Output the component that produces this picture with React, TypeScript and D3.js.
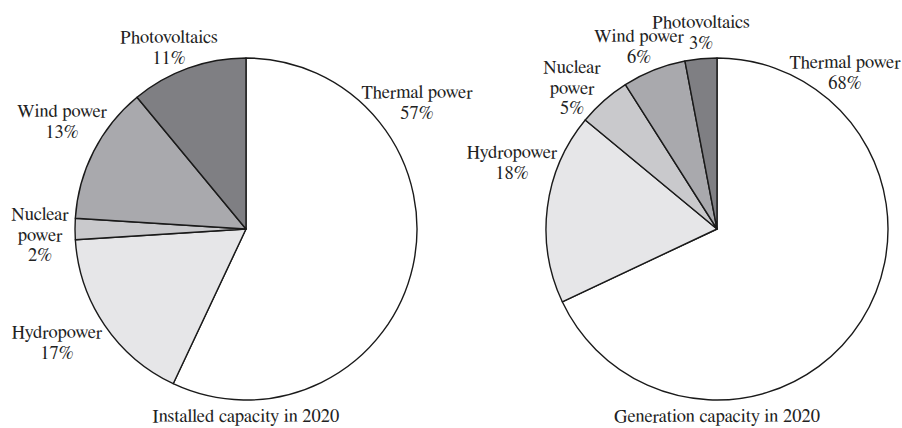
import React from "react";
import * as d3 from "d3";

const categories = ["Thermal power", "Hydropower", "Nuclear power", "Wind power", "Photovoltaics"];
const installedValues = [57, 17, 2, 13, 11];
const generationValues = [68, 18, 5, 6, 3];
const titles = ["Installed capacity in 2020", "Generation capacity in 2020"];
const colors = ["#ffffff", "#e6e6e8", "#c9c9cc", "#a9a9ad", "#7f7f83"];

const installedLabels = [
  { lines: ["Thermal power", "57%"], x: 417, y: 98 },
  { lines: ["Hydropower", "17%"], x: 57, y: 338 },
  { lines: ["Nuclear", "power", "2%"], x: 40, y: 220 },
  { lines: ["Wind power", "13%"], x: 62, y: 117 },
  { lines: ["Photovoltaics", "11%"], x: 169, y: 43 },
];
const generationLabels = [
  { lines: ["Thermal power", "68%"], x: 845, y: 68 },
  { lines: ["Hydropower", "18%"], x: 512, y: 158 },
  { lines: ["Nuclear", "power", "5%"], x: 572, y: 73 },
  { lines: ["Wind power", "6%"], x: 639, y: 42 },
  { lines: ["Photovoltaics", "3%"], x: 701, y: 28 },
];

const W = 902;
const H = 428;
const R = 171;
const FONT = "FreeSerif, 'Liberation Serif', serif";

function Pie({ cx, cy, values, labels, title }) {
  const pie = d3.pie<number>().sort(null).value((d) => d);
  const arcs = pie(values);
  const arc = d3.arc<d3.PieArcDatum<number>>().innerRadius(0).outerRadius(R);
  return (
    <g>
      <g transform={`translate(${cx},${cy})`}>
        {arcs.map((a, i) => (
          <path key={i} d={arc(a) || ""} fill={colors[i]} stroke="#1a1a1a" strokeWidth={1.4} strokeLinejoin="round" />
        ))}
      </g>
      {labels.map((l, i) => (
        <text key={i} x={l.x} y={l.y} textAnchor="middle" fontSize={18.5} fill="#222" style={{ fontFamily: FONT }}>
          {l.lines.map((ln, j) => (
            <tspan key={j} x={l.x} dy={j === 0 ? 0 : 20.5}>{ln}</tspan>
          ))}
        </text>
      ))}
      <text x={cx} y={422} textAnchor="middle" fontSize={18.5} fill="#222" style={{ fontFamily: FONT }}>
        {title}
      </text>
    </g>
  );
}

export default function App() {
  return (
    <svg width={W} height={H} style={{ position: "absolute", left: 0, top: 0, background: "#fff" }}>
      <rect width={W} height={H} fill="#fff" />
      <Pie cx={246} cy={229} values={installedValues} labels={installedLabels} title={titles[0]} />
      <Pie cx={717} cy={229} values={generationValues} labels={generationLabels} title={titles[1]} />
    </svg>
  );
}
